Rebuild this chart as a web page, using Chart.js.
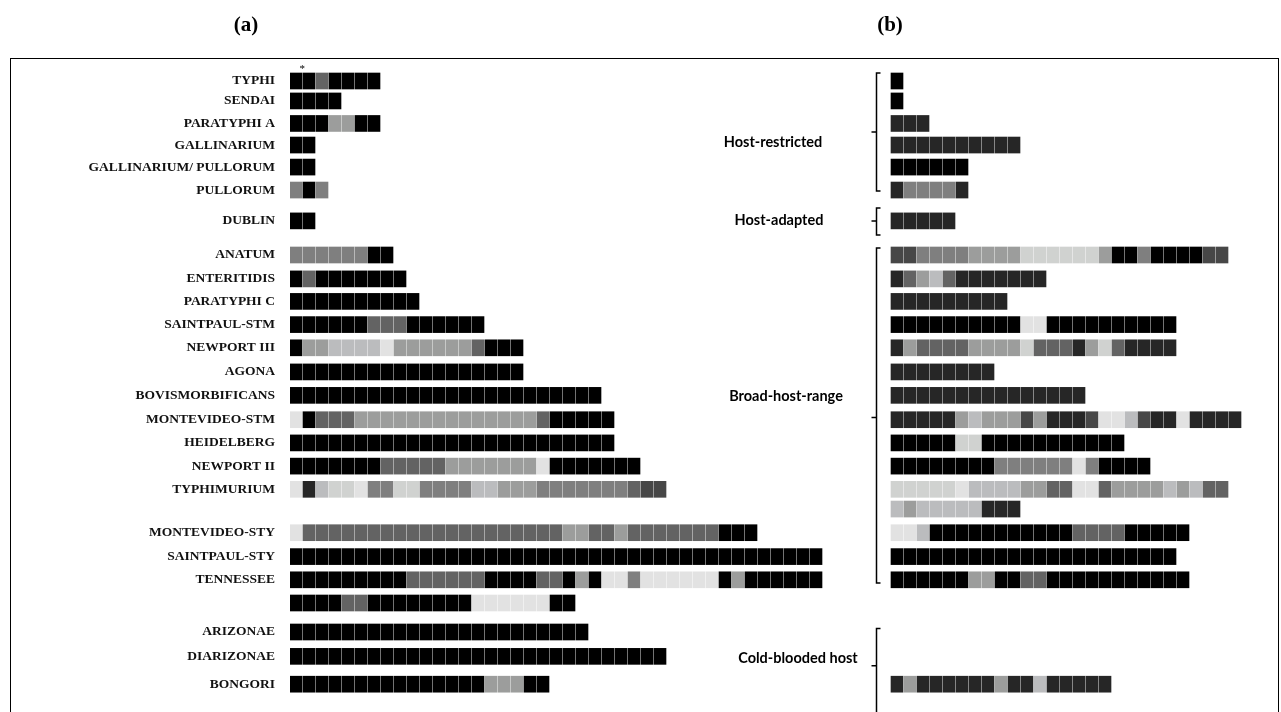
<!DOCTYPE html>
<html>
<head>
<meta charset="utf-8">
<title>Serovar profiles</title>
<script src="https://cdn.jsdelivr.net/npm/chart.js@4.4.1/dist/chart.umd.min.js"></script>
<style>
  html, body { margin: 0; padding: 0; background: #fff; }
  #wrap { width: 1281px; height: 712px; }
</style>
</head>
<body>
<div id="wrap"><canvas id="chart" width="1281" height="712"></canvas></div>
<script>
// row labels and their vertical slot (1 slot = one row pitch)
const serovars = ['TYPHI', 'SENDAI', 'PARATYPHI A', 'GALLINARIUM', 'GALLINARIUM/ PULLORUM', 'PULLORUM',
  'DUBLIN', 'ANATUM', 'ENTERITIDIS', 'PARATYPHI C', 'SAINTPAUL-STM', 'NEWPORT III', 'AGONA',
  'BOVISMORBIFICANS', 'MONTEVIDEO-STM', 'HEIDELBERG', 'NEWPORT II', 'TYPHIMURIUM',
  'MONTEVIDEO-STY', 'SAINTPAUL-STY', 'TENNESSEE', 'ARIZONAE', 'DIARIZONAE', 'BONGORI'];
const rowPos = [0, 0.86, 1.83, 2.76, 3.71, 4.7, 6.03, 7.5, 8.53, 9.5, 10.5, 11.5, 12.54,
  13.55, 14.6, 15.6, 16.6, 17.6, 19.47, 20.5, 21.5, 23.75, 24.8, 26.0];

// one letter per square, letter = shade
const profileA = [
  'KKGKKKK',
  'KKKK',
  'KKKNNKK',
  'KK',
  'KK',
  'MKM',
  'KK',
  'MMMMMMKK',
  'KGKKKKKKK',
  'KKKKKKKKKK',
  'KKKKKKGGGKKKKKK',
  'KNNLLLLWNNNNNNGKKK',
  'KKKKKKKKKKKKKKKKKK',
  'KKKKKKKKKKKKKKKKKKKKKKKK',
  'WKGGGNNNNNNNNNNNNNNGKKKKK',
  'KKKKKKKKKKKKKKKKKKKKKKKKK',
  'KKKKKKKGGGGGNNNNNNNWKKKKKKK',
  'WDLPPWMMPPMMMMLLNNNMMMMMMMGEE',
  'WGGGGGGGGGGGGGGGGGGGGNNGGNGGGGGGGKKK',
  'KKKKKKKKKKKKKKKKKKKKKKKKKKKKKKKKKKKKKKKKK',
  'KKKKKKKKKGGGGGGKKKKGGKNKWWMWWWWWWKNKKKKKK',
  'KKKKKKKKKKKKKKKKKKKKKKK',
  'KKKKKKKKKKKKKKKKKKKKKKKKKKKKK',
  'KKKKKKKKKKKKKKKNNNKK'
];
const profileB = [
  'K',
  'K',
  'DDD',
  'DDDDDDDDDD',
  'KKKKKK',
  'DMMMMD',
  'DDDDD',
  'EEMMMMNNNNPPPPPPNKKMKKKKEE',
  'DGNLGDDDDDDD',
  'DDDDDDDDD',
  'KKKKKKKKKKWWKKKKKKKKKK',
  'DNGGGGNNNNPGGGDNPGDDDD',
  'DDDDDDDD',
  'DDDDDDDDDDDDDDD',
  'DDDDDNLNNNENDDDEWWLEDDWDDDD',
  'KKKKKPPKKKKKKKKKKK',
  'KKKKKKKKMMMMMMWMKKKK',
  'PPPPPWLLLLNNGGWWGNNNNLNLGG',
  'WWLKKKKKKKKKKKGGGGKKKKK',
  'KKKKKKKKKKKKKKKKKKKKKK',
  'KKKKKKNNKKGGKKKKKKKKKKK',
  '',
  '',
  'DNDDDDDDNDDLDDDDD'
];
// wrapped continuation lines
const extraPosA = [22.5];
const extraProfileA = ['KKKKGGKKKKKKKKWWWWWWKK'];
const extraPosB = [18.45];
const extraProfileB = ['LNLLLLLDDD'];

const shades = {
  K: '#000000', D: '#262626', E: '#474747', G: '#636363', M: '#7f7f7f',
  N: '#9c9d9c', L: '#bbbcbe', P: '#d0d2d0', W: '#e2e2e2'
};

const hostGroups = ['Host-restricted', 'Host-adapted', 'Broad-host-range', 'Cold-blooded host'];

function toCells(rows, pos) {
  const cells = [];
  rows.forEach((row, i) => {
    [...row].forEach((code, col) => {
      cells.push({ x: [col, col + 12 / 13], y: pos[i], shade: code });
    });
  });
  return cells;
}

const cellsA = toCells(profileA.concat(extraProfileA), rowPos.concat(extraPosA));
const cellsB = toCells(profileB.concat(extraProfileB), rowPos.concat(extraPosB));

// braces, group labels and panel titles
const decorations = {
  id: 'decorations',
  afterDraw(chart) {
    const { ctx, scales: { y, xa, xb } } = chart;
    ctx.save();
    ctx.strokeStyle = '#000';
    ctx.lineWidth = 1;
    ctx.strokeRect(10.5, 58.5, 1268, 700);

    ctx.fillStyle = '#000';
    ctx.textAlign = 'center';
    ctx.textBaseline = 'middle';
    ctx.font = 'bold 21px "Liberation Serif"';
    ctx.fillText('(a)', 246, 26);
    ctx.fillText('(b)', 890, 26);

    ctx.font = '11px "Liberation Serif"';
    ctx.fillText('*', xa.getPixelForValue(0.95), y.getPixelForValue(0) - 12);

    const spans = [[-0.35, 4.74, 2.2], [5.47, 6.64, 6.03], [7.2, 21.64, 14.5], [23.6, 27.3, 25.2]];
    const labelAt = [[773, 2.66], [779, 5.99], [786, 13.58], [798, 24.87]];
    const bx = Math.round(xb.getPixelForValue(0)) - 14.5;
    ctx.lineWidth = 1.5;
    ctx.font = 'bold 14.5px Lato';
    spans.forEach(([top, bottom, mid], i) => {
      const t = y.getPixelForValue(top), b = y.getPixelForValue(bottom), m = y.getPixelForValue(mid);
      ctx.beginPath();
      ctx.moveTo(bx + 4, t);
      ctx.lineTo(bx, t);
      ctx.lineTo(bx, b);
      ctx.lineTo(bx + 4, b);
      ctx.moveTo(bx, m);
      ctx.lineTo(bx - 5, m);
      ctx.stroke();
      ctx.fillText(hostGroups[i], labelAt[i][0], y.getPixelForValue(labelAt[i][1]));
    });
    ctx.restore();
  }
};

const ctx = document.getElementById('chart').getContext('2d');
new Chart(ctx, {
  type: 'bar',
  data: {
    datasets: [
      {
        label: '(a)',
        data: cellsA,
        xAxisID: 'xa',
        yAxisID: 'y',
        backgroundColor: (c) => shades[c.raw.shade],
        borderWidth: 0,
        barThickness: 16,
        grouped: false
      },
      {
        label: '(b)',
        data: cellsB,
        xAxisID: 'xb',
        yAxisID: 'y',
        backgroundColor: (c) => shades[c.raw.shade],
        borderWidth: 0,
        barThickness: 16,
        grouped: false
      }
    ]
  },
  options: {
    indexAxis: 'y',
    responsive: false,
    animation: false,
    layout: { autoPadding: false, padding: { left: 0, right: 2, top: 0, bottom: 0 } },
    plugins: { legend: { display: false }, tooltip: { enabled: false } },
    scales: {
      y: {
        type: 'linear',
        offset: false,
        reverse: true,
        min: -81 / 23.2,
        max: (712 - 81) / 23.2,
        afterBuildTicks: (scale) => {
          scale.ticks = rowPos.map(v => ({ value: v }));
        },
        afterFit: (scale) => {
          scale.width = 290;
          scale.paddingTop = 0;
          scale.paddingBottom = 0;
        },
        grid: { display: false, drawTicks: false },
        border: { display: false },
        ticks: {
          autoSkip: false,
          padding: 15,
          color: '#111',
          font: { family: 'Liberation Serif', size: 13.5, weight: 'bold' },
          callback: (v, i) => serovars[i]
        }
      },
      xa: { type: 'linear', axis: 'x', display: false, min: 0, max: 989 / 13 },
      xb: { type: 'linear', axis: 'x', display: false, min: -601 / 13, max: 388 / 13 }
    }
  },
  plugins: [decorations]
});
</script>
</body>
</html>
